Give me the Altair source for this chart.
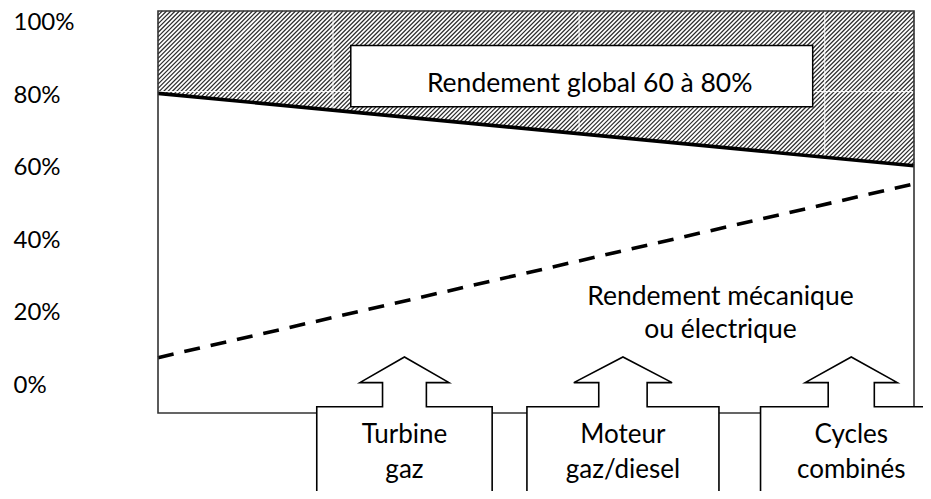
import altair as alt
import numpy as np
import pandas as pd

# ---------------- data ----------------
y_ticks = [0, 20, 40, 60, 80, 100]

# upper limit of the global efficiency band (solid line), in %
glob_x = [0, 100]
glob_y = [80, 60]

# mechanical / electrical efficiency (dashed line), in %
mech_x = [0, 100]
mech_y = [7, 55]

# label box "Rendement global 60 à 80%"
gbox_x = [25.5, 86.6]
gbox_y = [76.3, 93.2]
gbox_text = "Rendement global 60 à 80%"
gbox_text_pos = [57.1, 80.4]

mech_text = ["Rendement mécanique", "ou électrique"]
mech_text_x = [74.4, 74.4]
mech_text_y = [21.6, 12.3]

# technology arrows
arrow_line1 = ["Turbine", "Moteur", "Cycles"]
arrow_line2 = ["gaz", "gaz/diesel", "combinés"]
arrow_center = [32.6, 61.5, 91.7]
arrow_box_half = [11.6, 12.7, 12.0]
arrow_shaft_half = [2.9, 3.2, 3.05]
arrow_head_half = [5.9, 6.5, 6.1]
arrow_box_top = -6.55
arrow_head_base = 0.1
arrow_tip = 7.2
arrow_text_y = [-16.7, -26.2]

# faint white gridlines seen through the hatching
grid_v_x = [23.15, 55.7, 88.2]
grid_h_y = 80.5

# frame of the plot
frame_x = [0, 100]
frame_bottom = -8.3

# ---------------- layout ----------------
W, H = 765, 480
XMAX = 101.19
YMAX = 102.76
YMIN = -29.83
X_PX = W / XMAX
Y_PX = H / (YMAX - YMIN)
HATCH_PITCH = 4.3

FONT = "Lato"

xs = alt.Scale(domain=[0, XMAX], nice=False, zero=False)
ys = alt.Scale(domain=[YMIN, YMAX], nice=False, zero=False)
y_axis = alt.Axis(
    values=y_ticks, labelExpr="datum.value + '%'", title=None, domain=False,
    ticks=False, tickSize=0, grid=False, labelAlign="left", labelPadding=145,
    labelFont=FONT, labelFontSize=24, labelColor="black", labelOffset=2,
    labelBaseline="middle",
)


def X(f="x"):
    return alt.X(f"{f}:Q", scale=xs, axis=None)


def Y(f="y"):
    return alt.Y(f"{f}:Q", scale=ys, axis=y_axis)


def glob_at(x):
    return glob_y[0] + (glob_y[1] - glob_y[0]) * (x - glob_x[0]) / (glob_x[1] - glob_x[0])


# hatching of the band above the solid line (45 degree lines)
slope = (glob_y[1] - glob_y[0]) / (glob_x[1] - glob_x[0])
hatch = []
c_min = -Y_PX * YMAX
c_max = X_PX * frame_x[1] - Y_PX * glob_y[1]
for c in np.arange(c_min, c_max, HATCH_PITCH):
    xu = (c + Y_PX * YMAX) / X_PX
    yu = YMAX
    if xu > frame_x[1]:
        xu = frame_x[1]
        yu = (X_PX * xu - c) / Y_PX
    xl = (c + glob_y[0] * Y_PX) / (X_PX - slope * Y_PX)
    yl = glob_at(xl)
    if xl < frame_x[0]:
        xl = frame_x[0]
        yl = -c / Y_PX
    if xu > xl:
        hatch.append({"x": xl, "y": yl, "x2": xu, "y2": yu})
hatch_df = pd.DataFrame(hatch)

hatch_layer = alt.Chart(hatch_df).mark_rule(color="#2b2b2b", strokeWidth=1.2).encode(
    x=X(), y=Y(), x2="x2:Q", y2="y2:Q")

grid_rows = [{"x": gx, "y": glob_at(gx), "x2": gx, "y2": YMAX} for gx in grid_v_x]
grid_rows.append({"x": frame_x[0], "y": grid_h_y, "x2": frame_x[1], "y2": grid_h_y})
grid_layer = alt.Chart(pd.DataFrame(grid_rows)).mark_rule(color="white", strokeWidth=1).encode(
    x=X(), y=Y(), x2="x2:Q", y2="y2:Q")

glob_layer = alt.Chart(pd.DataFrame({"x": glob_x, "y": glob_y})).mark_line(
    color="black", strokeWidth=3.6).encode(x=X(), y=Y())

mech_layer = alt.Chart(pd.DataFrame({"x": mech_x, "y": mech_y})).mark_line(
    color="black", strokeWidth=3.6, strokeDash=[16, 11]).encode(x=X(), y=Y())

gbox_layer = alt.Chart(pd.DataFrame({"x": [gbox_x[0]], "x2": [gbox_x[1]],
                                     "y": [gbox_y[0]], "y2": [gbox_y[1]]})).mark_rect(
    fill="white", stroke="black", strokeWidth=1.5).encode(x=X(), y=Y(), x2="x2:Q", y2="y2:Q")

gbox_txt = alt.Chart(pd.DataFrame({"x": [gbox_text_pos[0]], "y": [gbox_text_pos[1]],
                                   "t": [gbox_text]})).mark_text(
    font=FONT, fontSize=26.5, color="black", align="center", baseline="alphabetic").encode(
    x=X(), y=Y(), text="t:N")

mech_txt = alt.Chart(pd.DataFrame({"x": mech_text_x, "y": mech_text_y, "t": mech_text})).mark_text(
    font=FONT, fontSize=26.5, color="black", align="center", baseline="alphabetic").encode(
    x=X(), y=Y(), text="t:N")

frame_layer = alt.Chart(pd.DataFrame({"x": [frame_x[0]], "x2": [frame_x[1]],
                                      "y": [frame_bottom], "y2": [YMAX]})).mark_rect(
    filled=False, stroke="#333333", strokeWidth=1.6).encode(x=X(), y=Y(), x2="x2:Q", y2="y2:Q")

# arrows
below = YMIN - 5
box_rows, outline_rows, text_rows = [], [], []
for i, c in enumerate(arrow_center):
    bw, sw, hw = arrow_box_half[i], arrow_shaft_half[i], arrow_head_half[i]
    box_rows.append({"x": c - bw, "x2": c + bw, "y": below, "y2": arrow_box_top})
    pts = [(c - bw, below), (c - bw, arrow_box_top), (c - sw, arrow_box_top),
           (c - sw, arrow_head_base), (c - hw, arrow_head_base), (c, arrow_tip),
           (c + hw, arrow_head_base), (c + sw, arrow_head_base), (c + sw, arrow_box_top),
           (c + bw, arrow_box_top), (c + bw, below)]
    for k, (px, py) in enumerate(pts):
        outline_rows.append({"a": i, "o": k, "x": px, "y": py})
    text_rows.append({"x": c, "y": arrow_text_y[0], "t": arrow_line1[i]})
    text_rows.append({"x": c, "y": arrow_text_y[1], "t": arrow_line2[i]})

arrow_fill = alt.Chart(pd.DataFrame(box_rows)).mark_rect(color="white", clip=True).encode(
    x=X(), y=Y(), x2="x2:Q", y2="y2:Q")
arrow_outline = alt.Chart(pd.DataFrame(outline_rows)).mark_line(
    color="black", strokeWidth=1.6, clip=True, strokeJoin="miter").encode(
    x=X(), y=Y(), detail="a:N", order="o:Q")
arrow_txt = alt.Chart(pd.DataFrame(text_rows)).mark_text(
    font=FONT, fontSize=26, color="black", align="center", baseline="alphabetic", clip=True).encode(
    x=X(), y=Y(), text="t:N")

chart = alt.layer(
    hatch_layer, grid_layer, glob_layer, mech_layer, gbox_layer, gbox_txt, mech_txt,
    frame_layer, arrow_fill, arrow_outline, arrow_txt,
).properties(
    width=W, height=H,
    autosize=alt.AutoSizeParams(type="none"),
    padding={"left": 150, "top": 3, "right": 0, "bottom": 0},
    background="white",
).configure_view(strokeWidth=0)

chart.save("out.html", embed_options={"renderer": "svg", "actions": False})
